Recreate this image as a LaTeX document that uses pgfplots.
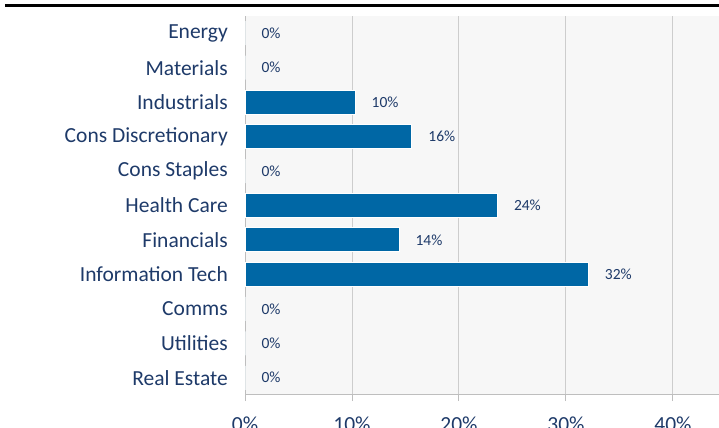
\documentclass[border=0pt]{standalone}
\usepackage{fontspec}
\setmainfont{Carlito}
\usepackage{pgfplots}
\pgfplotsset{compat=1.18}
\definecolor{barblue}{RGB}{0,103,165}
\definecolor{navy}{RGB}{30,58,105}
\definecolor{bggray}{RGB}{247,247,247}
\definecolor{gridgray}{RGB}{205,205,205}
\definecolor{axgray}{RGB}{190,190,190}
\begin{document}
\begin{tikzpicture}
\path[use as bounding box] (0,0) rectangle (719bp,428bp);
\clip (0,0) rectangle (719bp,428bp);
\draw[black, line width=3.6bp] (5bp,422.5bp) -- (719bp,422.5bp);
\begin{axis}[
  at={(245bp,33bp)}, anchor=south west,
  scale only axis, width=474bp, height=379bp,
  xbar, bar width=24bp,
  xmin=0, xmax=44.3,
  ymin=-0.5, ymax=10.5,
  axis background/.style={fill=bggray},
  axis x line*=bottom, axis y line*=left,
  axis line style={axgray, line width=1bp},
  xtick={0,10,20,30,40},
  xticklabels={0\%,10\%,20\%,30\%,40\%},
  xmajorgrids, grid style={gridgray, line width=1bp},
  x tick style={axgray, line width=1bp},
  major tick length=6bp,
  tick align=outside,
  xticklabel style={font=\fontsize{21.5bp}{25bp}\selectfont, text=navy, anchor=north, inner sep=0pt, yshift=-16bp},
  ytick={0,...,10},
  yticklabels={Real Estate,Utilities,Comms,Information Tech,Financials,Health Care,Cons Staples,Cons Discretionary,Industrials,Materials,Energy},
  y tick style={draw=none},
  minor ytick={-0.5,0.5,...,10.5},
  minor y tick style={axgray, line width=1bp},
  minor tick length=6bp,
  yticklabel style={font=\fontsize{21.5bp}{25bp}\selectfont, text=navy, anchor=east, inner sep=0pt, xshift=-11bp},
  nodes near coords={\pgfmathprintnumber[fixed,precision=0]{\pgfplotspointmeta}\%},
  every node near coord/.append style={font=\fontsize{15.5bp}{18bp}\selectfont, text=navy, anchor=west, inner sep=0pt, xshift=16bp},
  /pgf/number format/assume math mode=true,
  clip=false,
]
\addplot[fill=barblue, draw=white, line width=1bp] coordinates {
(0,0) (0,1) (0,2) (32.1,3) (14.4,4) (23.6,5) (0,6) (15.6,7) (10.3,8) (0,9) (0,10)
};
\end{axis}
\end{tikzpicture}
\end{document}
